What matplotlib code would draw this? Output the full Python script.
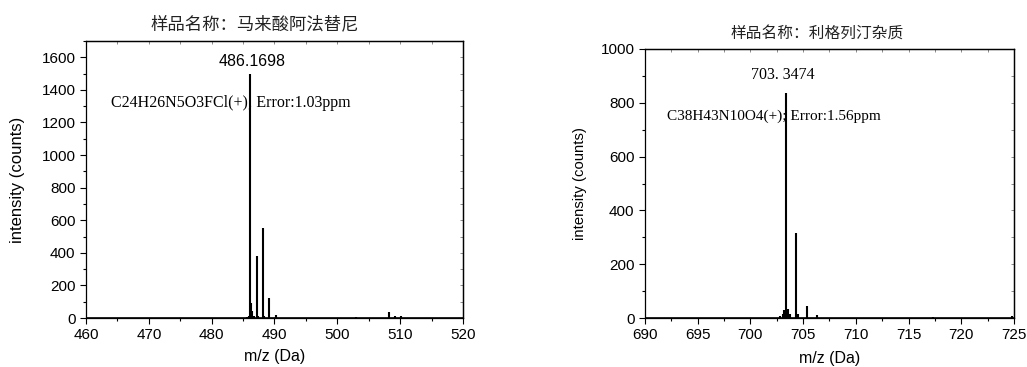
import matplotlib
matplotlib.use("Agg")
import matplotlib.pyplot as plt
from matplotlib.ticker import MultipleLocator

plt.rcParams['font.family'] = ['Liberation Sans', 'Noto Sans CJK SC', 'DejaVu Sans']

# Sample 1: 马来酸阿法替尼
mz_a = [485.70, 485.95, 486.17, 486.30, 486.45, 486.70, 487.17, 487.40, 488.17, 488.40, 489.17, 490.20, 503.0, 508.20, 509.20, 510.20]
int_a = [6, 12, 1500, 90, 40, 12, 381, 14, 554, 12, 125, 16, 4, 37, 15, 15]

# Sample 2: 利格列汀杂质
mz_b = [702.80, 703.05, 703.20, 703.35, 703.55, 703.75, 704.35, 704.55, 705.35, 706.35, 717.3, 724.8]
int_b = [6, 14, 30, 836, 35, 14, 317, 15, 46, 12, 3, 6]

titles = ["样品名称：马来酸阿法替尼", "样品名称：利格列汀杂质"]
peak_labels = ["486.1698", "703. 3474"]
formulas = ["C24H26N5O3FCl(+); Error:1.03ppm", "C38H43N10O4(+); Error:1.56ppm"]

fig = plt.figure(figsize=(10.27, 3.67), dpi=100)
W, H = 1027, 367
ax1 = fig.add_axes([86 / W, 1 - 318 / H, (463 - 86) / W, (318 - 41) / H])
ax2 = fig.add_axes([645 / W, 1 - 318 / H, (1014 - 645) / W, (318 - 49) / H])

cjk = ['Noto Sans CJK SC', 'DejaVu Sans']
serif = ['Liberation Serif', 'DejaVu Serif']


def style(ax, xlim, ylim, xmaj, xmin, ymaj, ymin):
    ax.set_xlim(*xlim)
    ax.set_ylim(*ylim)
    ax.xaxis.set_major_locator(MultipleLocator(xmaj))
    ax.xaxis.set_minor_locator(MultipleLocator(xmin))
    ax.yaxis.set_major_locator(MultipleLocator(ymaj))
    ax.yaxis.set_minor_locator(MultipleLocator(ymin))
    # outward ticks on the bottom/left axes
    ax.tick_params(which='both', direction='out', labelsize=11, width=0.8,
                   top=False, right=False)
    ax.tick_params(which='major', length=4)
    ax.tick_params(which='minor', length=2.5)
    for s in ax.spines.values():
        s.set_linewidth(0.9)
    # faint inward ticks on the top/right spines
    tx = ax.secondary_xaxis('top')
    tx.xaxis.set_major_locator(MultipleLocator(xmaj))
    tx.xaxis.set_minor_locator(MultipleLocator(xmin))
    tx.tick_params(which='both', direction='in', length=2, width=0.6,
                   color='#777777', labeltop=False)
    tx.spines['top'].set_linewidth(0.9)
    ty = ax.secondary_yaxis('right')
    ty.yaxis.set_major_locator(MultipleLocator(ymaj))
    ty.yaxis.set_minor_locator(MultipleLocator(ymin))
    ty.tick_params(which='both', direction='in', length=2, width=0.6,
                   color='#777777', labelright=False)
    ty.spines['right'].set_linewidth(0.9)


# Spectrum 1
ax1.vlines(mz_a, 0, int_a, color='black', linewidth=1.5)
ax1.axhline(0, color='black', linewidth=1.2)
style(ax1, (460, 520), (0, 1700), 10, 5, 200, 100)
ax1.set_xlabel("m/z (Da)", fontsize=11.5, labelpad=5)
ax1.set_ylabel("intensity (counts)", fontsize=12, labelpad=12)
fig.text(255 / W, 1 - 24 / H, titles[0], ha='center', va='center', fontsize=12.5,
         family=cjk, color='#222222')
ax1.text(mz_a[2] + 0.3, 1575, peak_labels[0], ha='center', va='center', fontsize=11.5)
ax1.text(463.9, 1320, formulas[0], ha='left', va='center', fontsize=11.5, family=serif)

# Spectrum 2
ax2.vlines(mz_b, 0, int_b, color='black', linewidth=1.5)
ax2.axhline(0, color='black', linewidth=1.2)
style(ax2, (690, 725), (0, 1000), 5, 2.5, 200, 100)
ax2.set_xlabel("m/z (Da)", fontsize=11.5, labelpad=6)
ax2.set_ylabel("intensity (counts)", fontsize=10.7, labelpad=10)
fig.text(817 / W, 1 - 33 / H, titles[1], ha='center', va='center', fontsize=11.3,
         family=cjk, color='#222222')
ax2.text(mz_b[3] - 0.3, 905, peak_labels[1], ha='center', va='center', fontsize=11.5,
         family=serif)
ax2.text(692.1, 750, formulas[1], ha='left', va='center', fontsize=11, family=serif)

fig.savefig("out.png", dpi=100)
